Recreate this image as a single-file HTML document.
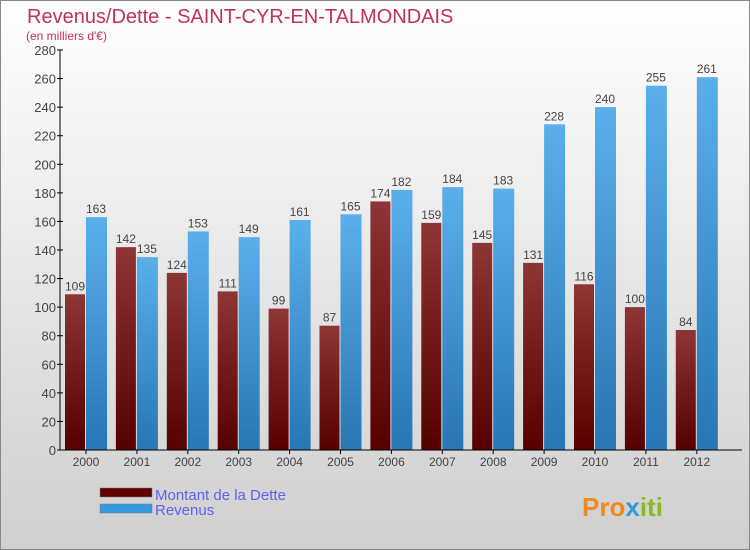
<!DOCTYPE html>
<html><head><meta charset="utf-8"><style>
body{margin:0}
svg{display:block;font-family:"Liberation Sans",sans-serif}
</style></head><body>
<svg id="c" width="750" height="550" xmlns="http://www.w3.org/2000/svg">
<defs>
<linearGradient id="bg" x1="0" y1="0" x2="0" y2="1"><stop offset="0" stop-color="#ffffff"/><stop offset="1" stop-color="#cfcfcf"/></linearGradient>
<linearGradient id="gd" x1="0" y1="0" x2="0" y2="1"><stop offset="0" stop-color="#8e3535"/><stop offset="1" stop-color="#560000"/></linearGradient>
<linearGradient id="gr" x1="0" y1="0" x2="0" y2="1"><stop offset="0" stop-color="#5aafea"/><stop offset="1" stop-color="#2876b4"/></linearGradient>
</defs>
<rect width="750" height="550" fill="url(#bg)"/>
<rect x="0.5" y="0.5" width="749" height="549" fill="none" stroke="#888"/>
<text x="27" y="23" font-size="20" fill="#c03060">Revenus/Dette - SAINT-CYR-EN-TALMONDAIS</text>
<text x="26" y="40" font-size="12" fill="#c03060">(en milliers d'€)</text>
<g id="plot"></g>
<g>
<rect x="100" y="488" width="52" height="9" fill="#600000" stroke="#777" stroke-width="0.5"/>
<text x="155" y="500" font-size="15" fill="#6060f0">Montant de la Dette</text>
<rect x="100" y="504" width="52" height="9" fill="#3399e0" stroke="#777" stroke-width="0.5"/>
<text x="155" y="515" font-size="15" fill="#6060f0">Revenus</text>
</g>
<text x="582" y="516" font-size="26" font-weight="bold" fill="#f08a20">Pro<tspan fill="#3399dd">x</tspan><tspan fill="#88bb22">iti</tspan></text>
</svg>
<script>
const years=["2000","2001","2002","2003","2004","2005","2006","2007","2008","2009","2010","2011","2012"];
const dette=[109,142,124,111,99,87,174,159,145,131,116,100,84];
const revenus=[163,135,153,149,161,165,182,184,183,228,240,255,261];
const ticks=[0,20,40,60,80,100,120,140,160,180,200,220,240,260,280];
const NS="http://www.w3.org/2000/svg";
const g=document.getElementById('plot');
const y0=450,yTop=50,yMax=280,x0=60,step=50.9,first=65;
const y=v=>y0-(v/yMax)*(y0-yTop);
function mk(t,a,txt){const e=document.createElementNS(NS,t);for(const k in a)e.setAttribute(k,a[k]);if(txt!==undefined)e.textContent=txt;g.appendChild(e);return e;}
ticks.forEach(t=>{
 const l=mk('line',{x1:x0-3,x2:x0+3,y1:y(t),y2:y(t),stroke:'#000'});
 
 
 const tx=mk('text',{x:x0-4,y:y(t)+5,'font-size':13,'text-anchor':'end',fill:'#444'},t);
 
 
});
years.forEach((yr,i)=>{
 const bx=first+i*step;
 const d=mk('rect',{x:bx,y:y(dette[i]),width:20,height:y0-y(dette[i]),fill:'url(#gd)'});
 
 
 const r=mk('rect',{x:bx+21,y:y(revenus[i]),width:21,height:y0-y(revenus[i]),fill:'url(#gr)'});
 
 
 const ld=mk('text',{x:bx+10,y:y(dette[i])-4,'font-size':12,'text-anchor':'middle',fill:'#444'},dette[i]);
 
 
 const lr=mk('text',{x:bx+31,y:y(revenus[i])-4,'font-size':12,'text-anchor':'middle',fill:'#444'},revenus[i]);
 
 
 const xl=mk('text',{x:bx+21,y:466,'font-size':12,'text-anchor':'middle',fill:'#444'},yr);
 
 
 const xt=mk('line',{x1:bx+21,x2:bx+21,y1:y0,y2:y0+4,stroke:'#000'});
 
 
});
const ya=mk('line',{x1:x0,x2:x0,y1:yTop,y2:y0,stroke:'#000'});


const xa=mk('line',{x1:x0,x2:742,y1:y0,y2:y0,stroke:'#000'});


</script>
</body></html>
